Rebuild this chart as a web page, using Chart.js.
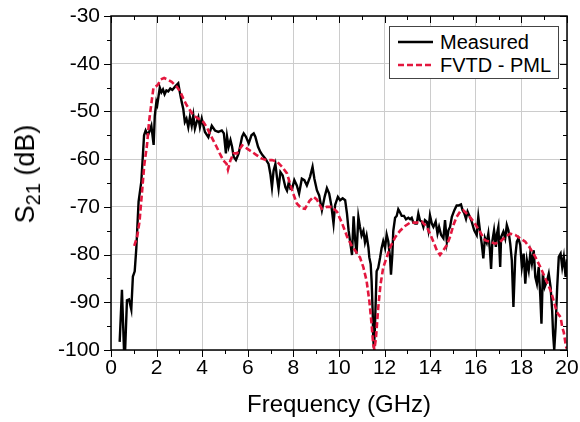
<!DOCTYPE html>
<html>
<head>
<meta charset="utf-8">
<script src="https://cdn.jsdelivr.net/npm/chart.js@4.4.1/dist/chart.umd.min.js"></script>
<style>
  html, body { margin: 0; padding: 0; background: #fff; }
  #wrap { position: relative; width: 580px; height: 422px; font-family: "Liberation Sans", Arial, sans-serif; overflow: hidden; }
  #c { position: absolute; left: 0; top: 0; }
  #ytitle { position: absolute; left: 25px; top: 174px; transform: translate(-50%, -50%) rotate(-90deg); font-size: 27px; line-height: 30px; color: #000; white-space: nowrap; }
  #ytitle sub { font-size: 20px; vertical-align: -6px; line-height: 0; }
  #legend { position: absolute; left: 389px; top: 26px; width: 170px; height: 53px; border: 1px solid #444; background: #fff; box-sizing: border-box; }
  .row { position: absolute; left: 8px; height: 22px; display: flex; align-items: center; }
  .row span { font-size: 20px; color: #000; margin-left: 7px; }
</style>
</head>
<body>
<div id="wrap">
  <canvas id="c" width="580" height="422"></canvas>
  <div id="ytitle">S<sub>21</sub> (dB)</div>
  <div id="legend">
    <div class="row" style="top:4px"><svg width="35" height="6"><line x1="0" y1="3" x2="35" y2="3" stroke="#000" stroke-width="2.4"/></svg><span id="lg0"></span></div>
    <div class="row" style="top:27px"><svg width="35" height="6"><line x1="0" y1="3" x2="35" y2="3" stroke="#e3173e" stroke-width="2.6" stroke-dasharray="6,3"/></svg><span id="lg1"></span></div>
  </div>
</div>
<script>
// ---- data ----
const seriesNames = ["Measured", "FVTD - PML"];
const xTitle = "Frequency (GHz)";

const measuredFreq = [0.38,0.48,0.57,0.62,0.70,0.79,0.89,0.96,1.04,1.11,1.21,1.33,1.45,1.52,1.62,1.70,1.77,1.87,1.92,1.99,2.03,2.14,2.21,2.28,2.35,2.43,2.51,2.60,2.69,2.81,2.95,3.02,3.10,3.17,3.24,3.31,3.39,3.46,3.54,3.61,3.68,3.76,3.83,3.90,3.98,4.12,4.27,4.42,4.56,4.71,4.86,4.95,5.04,5.09,5.16,5.24,5.31,5.38,5.48,5.60,5.75,5.82,5.92,6.04,6.16,6.26,6.33,6.45,6.55,6.65,6.77,6.91,6.99,7.06,7.13,7.21,7.28,7.35,7.43,7.53,7.65,7.72,7.80,7.87,7.95,8.04,8.15,8.25,8.37,8.48,8.59,8.73,8.84,8.92,9.03,9.13,9.25,9.37,9.47,9.57,9.66,9.76,9.83,9.95,10.05,10.16,10.27,10.35,10.42,10.50,10.57,10.64,10.70,10.77,10.85,10.92,10.99,11.07,11.14,11.21,11.29,11.33,11.39,11.43,11.48,11.50,11.53,11.57,11.62,11.65,11.72,11.80,11.87,11.94,12.02,12.09,12.16,12.24,12.28,12.34,12.38,12.46,12.53,12.60,12.68,12.75,12.85,12.94,13.04,13.12,13.19,13.26,13.34,13.41,13.48,13.55,13.63,13.70,13.77,13.85,13.92,13.99,14.07,14.14,14.24,14.32,14.39,14.48,14.58,14.65,14.73,14.80,14.87,14.95,15.06,15.16,15.26,15.35,15.42,15.50,15.57,15.64,15.74,15.82,15.93,16.04,16.11,16.18,16.26,16.33,16.40,16.48,16.55,16.62,16.67,16.73,16.80,16.88,16.93,16.99,17.07,17.11,17.21,17.29,17.36,17.43,17.51,17.58,17.65,17.73,17.80,17.87,17.95,18.02,18.10,18.17,18.24,18.32,18.39,18.46,18.54,18.61,18.68,18.76,18.83,18.88,18.94,19.02,19.13,19.20,19.28,19.35,19.39,19.44,19.50,19.57,19.64,19.72,19.79,19.86,19.94,20.00];
const measuredDb = [-98.3,-87.4,-100,-100,-89.6,-89.4,-91.5,-84.6,-83.5,-78.7,-68.9,-64.7,-55,-54,-55,-54,-53,-57,-51,-48,-48.6,-45,-46,-45.4,-46.4,-45.6,-45.8,-45.2,-45.5,-44.8,-44.1,-46,-48,-49.5,-52.2,-51.5,-53.3,-51.2,-53,-50.8,-53.6,-52.2,-51.2,-53.3,-51.5,-54.3,-55.4,-53,-54,-54.3,-54,-54.6,-58.8,-55.3,-57.4,-56,-57.4,-59.5,-60.2,-58.8,-55.3,-54.6,-55.3,-56.7,-55,-54.6,-55.3,-57.4,-58.5,-59.2,-59.9,-61,-63.1,-65.9,-62.4,-61,-63.8,-66.2,-62.7,-63.4,-65.9,-66.6,-64.8,-66.2,-66.1,-64.4,-65.5,-67.2,-64.1,-64.4,-65.5,-63.7,-61.6,-64.1,-66.5,-67.6,-70.7,-67.9,-66.1,-67.2,-69.6,-73.5,-69.6,-67.9,-68.6,-68.2,-68.6,-71.4,-74.9,-77.7,-80.1,-72,-76.5,-79.8,-72.1,-74.2,-76,-75,-77.4,-76,-78.5,-80.6,-82,-85.5,-92.5,-97.3,-99.5,-96,-88.3,-83.5,-82.8,-80.7,-78.6,-77.2,-78.6,-75.8,-77.2,-80.7,-84.2,-80,-75.1,-72.3,-71.9,-70.5,-71.2,-71.9,-71.9,-72.6,-72.3,-72.6,-72.3,-73.3,-73.5,-73.5,-71.4,-72.8,-73.1,-74.2,-72.8,-73.1,-74.9,-71.8,-73.5,-74.2,-73.1,-75.6,-74.2,-75.9,-76.6,-72.8,-77.3,-74.9,-74.2,-72.1,-70.7,-69.7,-69.7,-69.5,-70.7,-71.4,-72.5,-71,-72.1,-73.1,-74.9,-75.9,-72.1,-74.9,-77.7,-80.8,-76.5,-77.5,-75.6,-79.1,-83,-77,-74.9,-78.4,-75.6,-74.2,-82.6,-76.3,-75.2,-76.6,-73.8,-74.9,-77.7,-81.2,-91,-80.5,-77.3,-76.6,-78,-82.6,-79.8,-86.1,-81.2,-83.3,-79.8,-81.9,-79.1,-84.7,-86.1,-82.6,-88.9,-94.5,-84,-86.8,-85.4,-84,-86.8,-91.8,-96.6,-100,-95.2,-86.8,-80.5,-79.8,-82.6,-80.5,-84.7,-81];

const fvtdFreq = [1.02,1.15,1.25,1.35,1.46,1.58,1.67,1.78,1.86,1.96,2.06,2.18,2.33,2.47,2.66,2.88,3.03,3.17,3.32,3.46,3.61,3.83,4.05,4.20,4.34,4.49,4.64,4.78,4.93,5.07,5.13,5.24,5.38,5.53,5.75,5.97,6.19,6.40,6.62,6.84,7.06,7.28,7.50,7.72,7.94,8.15,8.35,8.51,8.70,8.88,9.03,9.25,9.47,9.70,9.92,10.14,10.36,10.58,10.70,10.92,11.07,11.21,11.33,11.43,11.50,11.55,11.62,11.72,11.82,11.94,12.09,12.24,12.46,12.68,12.90,13.12,13.41,13.63,13.85,13.99,14.14,14.29,14.43,14.58,14.73,14.87,15.02,15.16,15.31,15.45,15.60,15.74,15.96,16.18,16.40,16.62,16.84,17.07,17.29,17.51,17.73,17.95,18.17,18.39,18.61,18.83,19.05,19.28,19.43,19.55,19.65,19.72,19.79,19.86,19.94,19.98];
const fvtdDb = [-78.2,-76.2,-73.1,-67.5,-61.2,-57,-52.1,-48,-45.1,-44.8,-44.4,-43.3,-43,-43.3,-43.8,-44.8,-45.8,-47.3,-48.7,-49.7,-50.8,-51.5,-52.2,-53.3,-54.7,-56.1,-57.5,-58.9,-60.3,-61,-62.2,-60.2,-58.8,-58.8,-57.1,-57.8,-58.5,-59.2,-59.9,-60.2,-60.2,-60.5,-61.6,-63,-66.5,-69.3,-70.3,-70.4,-68.8,-67.9,-68.5,-70.4,-70,-70,-71.1,-73.5,-76.3,-78.4,-79.1,-80.6,-82.7,-85.5,-89.7,-94.6,-98.8,-99.9,-97.5,-91.2,-86.3,-82.7,-80.6,-78.5,-76.4,-75,-74,-73.3,-73.3,-73.1,-74.2,-75.6,-77.3,-79.1,-80.1,-79.1,-78,-76.3,-73.8,-72.1,-71,-70.7,-71.4,-72.1,-73.5,-75.2,-77,-77.3,-77.7,-77.3,-76.3,-75.6,-75.9,-76.6,-77.3,-78.7,-80.5,-82.6,-85,-87.5,-89.9,-92,-92.7,-93.1,-95.2,-96.3,-98.8,-99.7];

const xRange = [0, 20];
const yRange = [-100, -30];

// ---- build ----
const toPts = (xs, ys) => xs.map((v, i) => ({ x: v, y: ys[i] }));
document.getElementById('lg0').textContent = seriesNames[0];
document.getElementById('lg1').textContent = seriesNames[1];

const FONT = "'Liberation Sans', Arial, sans-serif";

const framePlugin = {
  id: 'frame',
  afterDraw(chart) {
    const { ctx, chartArea: a, scales: { x, y } } = chart;
    ctx.save();
    ctx.strokeStyle = '#000';
    ctx.lineWidth = 1;
    ctx.beginPath();
    for (let v = x.min; v <= x.max + 1e-9; v += 1) {
      const px = Math.round(x.getPixelForValue(v)) + 0.5;
      const L = (Math.round(v) % 2 === 0) ? 7 : 4;
      ctx.moveTo(px, a.bottom); ctx.lineTo(px, a.bottom + L);
      ctx.moveTo(px, a.top); ctx.lineTo(px, a.top + L);
    }
    for (let v = y.min; v <= y.max + 1e-9; v += 5) {
      const py = Math.round(y.getPixelForValue(v)) + 0.5;
      const L = (Math.round(v) % 10 === 0) ? 7 : 4;
      ctx.moveTo(a.left, py); ctx.lineTo(a.left - L, py);
      ctx.moveTo(a.right, py); ctx.lineTo(a.right - L, py);
    }
    ctx.stroke();
    ctx.lineWidth = 1.5;
    ctx.strokeRect(a.left, a.top, a.right - a.left, a.bottom - a.top);
    ctx.restore();
  }
};

new Chart(document.getElementById('c'), {
  type: 'line',
  data: {
    datasets: [
      { label: seriesNames[0], data: toPts(measuredFreq, measuredDb), borderColor: '#000', borderWidth: 2.4, pointRadius: 0, tension: 0, order: 1, fill: false },
      { label: seriesNames[1], data: toPts(fvtdFreq, fvtdDb), borderColor: '#e3173e', borderWidth: 2.6, borderDash: [6, 3], pointRadius: 0, tension: 0, order: 0, fill: false }
    ]
  },
  options: {
    responsive: false,
    animation: false,
    devicePixelRatio: 1,
    layout: { padding: { top: 16, right: 13, left: 0, bottom: 0 } },
    plugins: { legend: { display: false }, tooltip: { enabled: false } },
    scales: {
      x: {
        type: 'linear', min: xRange[0], max: xRange[1],
        ticks: { stepSize: 2, color: '#000', font: { family: FONT, size: 21 }, padding: 6, maxRotation: 0 },
        grid: { color: '#cccccc', lineWidth: 1, drawTicks: false },
        border: { display: false },
        title: { display: true, text: xTitle, color: '#000', font: { family: FONT, size: 24 }, padding: { top: 2, bottom: 2 } },
        afterFit(s) { s.height = 72; s.paddingLeft = 0; s.paddingRight = 0; }
      },
      y: {
        type: 'linear', min: yRange[0], max: yRange[1],
        ticks: { stepSize: 10, color: '#000', font: { family: FONT, size: 21 }, padding: 11 },
        grid: { color: '#cccccc', lineWidth: 1, drawTicks: false },
        border: { display: false },
        afterFit(s) { s.width = 111; s.paddingTop = 0; s.paddingBottom = 0; }
      }
    }
  },
  plugins: [framePlugin]
});
</script>
</body>
</html>
